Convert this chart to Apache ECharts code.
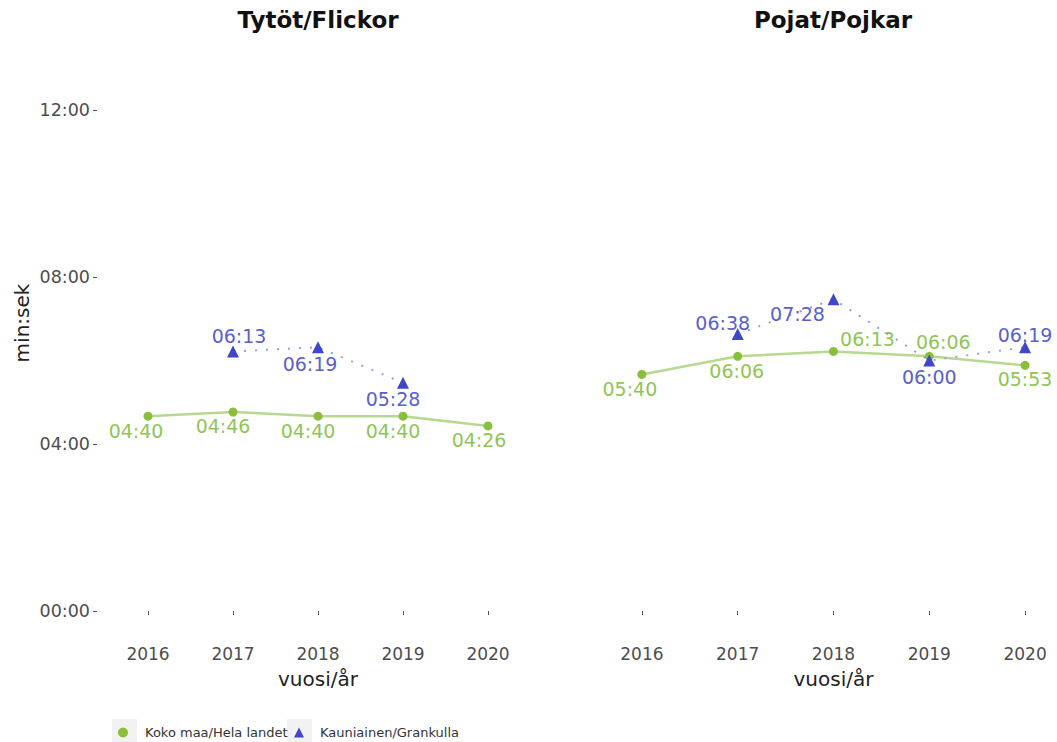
<!DOCTYPE html>
<html><head><meta charset="utf-8">
<script src="https://cdn.jsdelivr.net/npm/echarts@6/dist/echarts.min.js"></script>
<style>html,body{margin:0;padding:0;background:#fff}#c{width:1057px;height:742px}</style>
</head><body><div id="c"></div>
<script>
// ---- data (seconds) ----
const years = [2016, 2017, 2018, 2019, 2020];
const girlsNational   = [280, 286, 280, 280, 266];
const girlsKauniainen = [null, 373, 379, 328, null];
const boysNational    = [340, 366, 373, 366, 353];
const boysKauniainen  = [null, 398, 448, 360, 379];
const yTicks = [0, 240, 480, 720];
const panelTitles = ['Tytöt/Flickor', 'Pojat/Pojkar'];
const seriesNames = ['Koko maa/Hela landet', 'Kauniainen/Grankulla'];
const xAxisName = 'vuosi/år';
const yAxisName = 'min:sek';

// ---- label placement (style, px offsets from point) ----
const offGN = [[-12,15],[-10,14],[-10,15],[-10,15],[-9,14]];
const offGK = [null,[6,-15],[-8,17],[-10,16],null];
const offBN = [[-12,15],[-1,15],[34,-12],[14,-14],[0,14]];
const offBK = [null,[-15,-11],[-36,15],[0,16],[0,-12]];

const GREEN = '#8abf3c', GREEN_LINE = '#b7d98f', GREEN_LABEL = '#90c555';
const BLUE = '#3f47c6', BLUE_LINE = '#959ae2', BLUE_LABEL = '#5a60cc';
const FONT = 'DejaVu Sans';

function fmt(s){ s = Math.round(s); const m = Math.floor(s/60), r = s%60; return String(m).padStart(2,'0')+':'+String(r).padStart(2,'0'); }
function build(vals, offs){
  return vals.map((v,i)=> v==null ? [years[i], null] : ({value: [years[i], v], label: {offset: offs[i]}}));
}

const chart = echarts.init(document.getElementById('c'), null, {renderer:'svg'});

function xAxis(idx, min, max, namePad){
  return {type:'value', gridIndex: idx, min: min, max: max, offset: 26,
    axisLine:{show:false},
    axisTick:{show:true, length:4, lineStyle:{color:'#555'}, customValues: years},
    axisLabel:{color:'#4d4d4d', fontSize:17, fontFamily:FONT, margin:8, customValues: years, formatter: v=>String(v)},
    name: xAxisName, nameLocation:'middle', nameGap:32,
    nameTextStyle:{color:'#222', fontSize:20, fontFamily:FONT, padding:[0,0,0,namePad]},
    splitLine:{show:false}};
}
function yAxis(idx, show){
  return {type:'value', gridIndex: idx, min: yTicks[0], max: yTicks[yTicks.length-1], interval: yTicks[1]-yTicks[0],
    show: show,
    axisLine:{show:false}, axisTick:{show:true, length:4, lineStyle:{color:'#555'}},
    axisLabel:{formatter: fmt, color:'#4d4d4d', fontSize:17.5, fontFamily:FONT, margin:7},
    splitLine:{show:false}};
}
function nat(name, idx, vals, offs){
  return {name, type:'line', xAxisIndex: idx, yAxisIndex: idx, data: build(vals, offs),
    symbol:'circle', symbolSize:9, itemStyle:{color:GREEN}, lineStyle:{color:GREEN_LINE, width:2.5},
    label:{show:true, position:'inside', formatter: p=>fmt(p.value[1]), color:GREEN_LABEL, fontSize:19, fontFamily:FONT},
    emphasis:{disabled:true}, z:2};
}
function kau(name, idx, vals, offs){
  return {name, type:'line', xAxisIndex: idx, yAxisIndex: idx, data: build(vals, offs),
    symbol:'triangle', symbolSize:12, itemStyle:{color:BLUE}, lineStyle:{color:BLUE_LINE, width:2, type:[2,9]},
    label:{show:true, position:'inside', formatter: p=>fmt(p.value[1]), color:BLUE_LABEL, fontSize:19, fontFamily:FONT},
    emphasis:{disabled:true}, z:3};
}

chart.setOption({
  animation:false,
  backgroundColor:'#fff',
  grid:[
    {left:97, width:442, top:110, bottom:131, containLabel:false},
    {left:584, right:0, top:110, bottom:131, containLabel:false}
  ],
  xAxis:[xAxis(0, 2015.4, 2020.6, 0), xAxis(1, 2016 - 58/96, 2020 + 32/96, 26)],
  yAxis:[yAxis(0,true), yAxis(1,false)],
  legend:[
    {data:[{name:seriesNames[0], icon:'circle'}], left:113, top:721, itemWidth:10, itemHeight:10,
     textStyle:{fontSize:13, color:'#333', fontFamily:FONT, padding:[0,0,0,12]}, selectedMode:false},
    {data:[{name:seriesNames[1], icon:'triangle'}], left:289, top:721, itemWidth:10, itemHeight:10,
     textStyle:{fontSize:13, color:'#333', fontFamily:FONT, padding:[0,0,0,11]}, selectedMode:false}
  ],
  graphic:[
    {type:'rect', shape:{x:112, y:719, width:25, height:23}, style:{fill:'#f2f2f2'}, z:0, silent:true},
    {type:'rect', shape:{x:287, y:719, width:25, height:23}, style:{fill:'#f2f2f2'}, z:0, silent:true},
    {type:'text', x:318, y:20, style:{text:panelTitles[0], fill:'#111', font:'bold 23px "DejaVu Sans"', align:'center', verticalAlign:'middle'}},
    {type:'text', x:833, y:20, style:{text:panelTitles[1], fill:'#111', font:'bold 23px "DejaVu Sans"', align:'center', verticalAlign:'middle'}},
    {type:'text', x:22, y:323, rotation:Math.PI/2, style:{text:yAxisName, fill:'#222', font:'20px "DejaVu Sans"', align:'center', verticalAlign:'middle'}}
  ],
  series:[
    nat(seriesNames[0], 0, girlsNational, offGN),
    kau(seriesNames[1], 0, girlsKauniainen, offGK),
    nat(seriesNames[0], 1, boysNational, offBN),
    kau(seriesNames[1], 1, boysKauniainen, offBK)
  ]
});
</script></body></html>
